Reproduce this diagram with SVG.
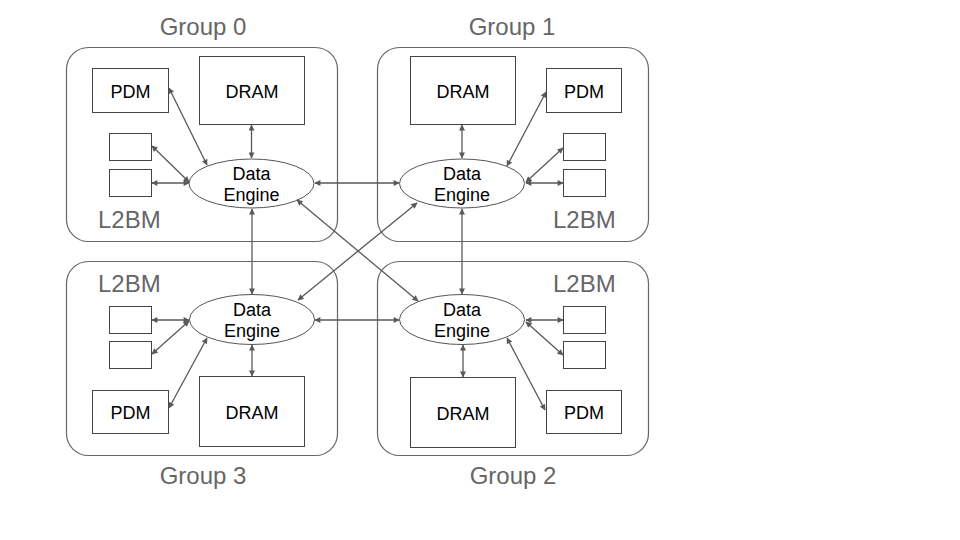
<svg xmlns="http://www.w3.org/2000/svg" width="960" height="540" viewBox="0 0 960 540">
<defs>
<marker id="ah" viewBox="0 0 10 10" refX="9" refY="5" markerWidth="7" markerHeight="6" markerUnits="userSpaceOnUse" orient="auto-start-reverse">
<path d="M0,0 L10,5 L0,10 z" fill="#595959"/>
</marker>
<style>
.grp{fill:#fff;stroke:#666;stroke-width:1.2}
.box{fill:#fff;stroke:#444;stroke-width:1}
.de{fill:#fff;stroke:#555;stroke-width:1}
.lbl{font-family:"Liberation Sans",Arial,sans-serif;font-size:18px;fill:#000;text-anchor:middle}
.title{font-family:"Liberation Sans",Arial,sans-serif;font-size:24px;fill:#666;text-anchor:middle}
.l2{font-family:"Liberation Sans",Arial,sans-serif;font-size:24px;fill:#666}
.c{stroke:#595959;stroke-width:1.3;fill:none;marker-start:url(#ah);marker-end:url(#ah)}
</style>
</defs>
<rect width="960" height="540" fill="#fff"/>
<text class="title" x="203" y="35">Group 0</text>
<text class="title" x="512" y="35">Group 1</text>
<text class="title" x="203" y="484">Group 3</text>
<text class="title" x="513" y="484">Group 2</text>

<g id="group0">
<rect class="grp" x="66.5" y="47.5" width="271" height="194" rx="22"/>
<text class="l2" x="98" y="228">L2BM</text>
</g>
<g id="group1">
<rect class="grp" x="377.5" y="47.5" width="271" height="194" rx="22"/>
<text class="l2" x="553" y="228">L2BM</text>
</g>
<g id="group3">
<rect class="grp" x="66.5" y="261.5" width="271" height="194" rx="22"/>
<text class="l2" x="98" y="292">L2BM</text>
</g>
<g id="group2">
<rect class="grp" x="377.5" y="261.5" width="271" height="194" rx="22"/>
<text class="l2" x="553" y="292">L2BM</text>
</g>

<g id="pdm0"><rect class="box" x="92.5" y="68.5" width="76" height="44"/><text class="lbl" x="130.5" y="97.5">PDM</text></g>
<g id="dram0"><rect class="box" x="199.5" y="56.5" width="105" height="68"/><text class="lbl" x="252" y="97.5">DRAM</text></g>
<g id="sb0a"><rect class="box" x="109.5" y="133.5" width="42" height="27"/></g>
<g id="sb0b"><rect class="box" x="109.5" y="169.5" width="42" height="27"/></g>
<g id="de0"><ellipse class="de" cx="251.5" cy="183.5" rx="62.5" ry="24.5"/><text class="lbl" x="251.5" y="179.5">Data</text><text class="lbl" x="251.5" y="201">Engine</text></g>

<g id="dram1"><rect class="box" x="410.5" y="56.5" width="105" height="68"/><text class="lbl" x="463" y="97.5">DRAM</text></g>
<g id="pdm1"><rect class="box" x="546.5" y="68.5" width="75" height="44"/><text class="lbl" x="584" y="97.5">PDM</text></g>
<g id="sb1a"><rect class="box" x="563.5" y="133.5" width="42" height="27"/></g>
<g id="sb1b"><rect class="box" x="563.5" y="169.5" width="42" height="27"/></g>
<g id="de1"><ellipse class="de" cx="462" cy="183.5" rx="62.5" ry="24.5"/><text class="lbl" x="462" y="179.5">Data</text><text class="lbl" x="462" y="201">Engine</text></g>

<g id="de3"><ellipse class="de" cx="252" cy="319.5" rx="62.5" ry="25"/><text class="lbl" x="252" y="315.5">Data</text><text class="lbl" x="252" y="337">Engine</text></g>
<g id="sb3a"><rect class="box" x="109.5" y="306.5" width="42" height="27"/></g>
<g id="sb3b"><rect class="box" x="109.5" y="341.5" width="42" height="27"/></g>
<g id="pdm3"><rect class="box" x="92.5" y="390.5" width="76" height="43"/><text class="lbl" x="130.5" y="418.5">PDM</text></g>
<g id="dram3"><rect class="box" x="199.5" y="376.5" width="105" height="70"/><text class="lbl" x="252" y="418.5">DRAM</text></g>

<g id="de2"><ellipse class="de" cx="462" cy="319.5" rx="62.5" ry="25"/><text class="lbl" x="462" y="315.5">Data</text><text class="lbl" x="462" y="337">Engine</text></g>
<g id="sb2a"><rect class="box" x="563.5" y="306.5" width="42" height="27"/></g>
<g id="sb2b"><rect class="box" x="563.5" y="341.5" width="42" height="27"/></g>
<g id="pdm2"><rect class="box" x="546.5" y="390.5" width="75" height="43"/><text class="lbl" x="584" y="418.5">PDM</text></g>
<g id="dram2"><rect class="box" x="410.5" y="377.5" width="105" height="70"/><text class="lbl" x="463" y="419.5">DRAM</text></g>

<g id="connectors">
<line class="c" x1="169" y1="88" x2="207" y2="165"/>
<line class="c" x1="251.5" y1="125" x2="251.5" y2="158"/>
<line class="c" x1="152" y1="146" x2="189" y2="182"/>
<line class="c" x1="152" y1="183" x2="189" y2="183"/>
<line class="c" x1="462" y1="125" x2="462" y2="158"/>
<line class="c" x1="546" y1="92" x2="507" y2="166"/>
<line class="c" x1="563" y1="148" x2="526" y2="182"/>
<line class="c" x1="563" y1="183" x2="526" y2="183"/>
<line class="c" x1="315" y1="183" x2="399" y2="183"/>
<line class="c" x1="252" y1="209" x2="252" y2="294"/>
<line class="c" x1="462" y1="209" x2="462" y2="294"/>
<line class="c" x1="297" y1="200" x2="418" y2="301"/>
<line class="c" x1="417" y1="203" x2="298" y2="300"/>
<line class="c" x1="315" y1="320" x2="399" y2="320"/>
<line class="c" x1="152" y1="320" x2="189" y2="320"/>
<line class="c" x1="152" y1="354" x2="189" y2="321"/>
<line class="c" x1="169" y1="408" x2="207" y2="338"/>
<line class="c" x1="252" y1="345" x2="252" y2="376"/>
<line class="c" x1="526" y1="320" x2="563" y2="320"/>
<line class="c" x1="526" y1="322" x2="563" y2="355"/>
<line class="c" x1="507" y1="338" x2="545" y2="410"/>
<line class="c" x1="463" y1="345" x2="463" y2="377"/>
</g>
</svg>
